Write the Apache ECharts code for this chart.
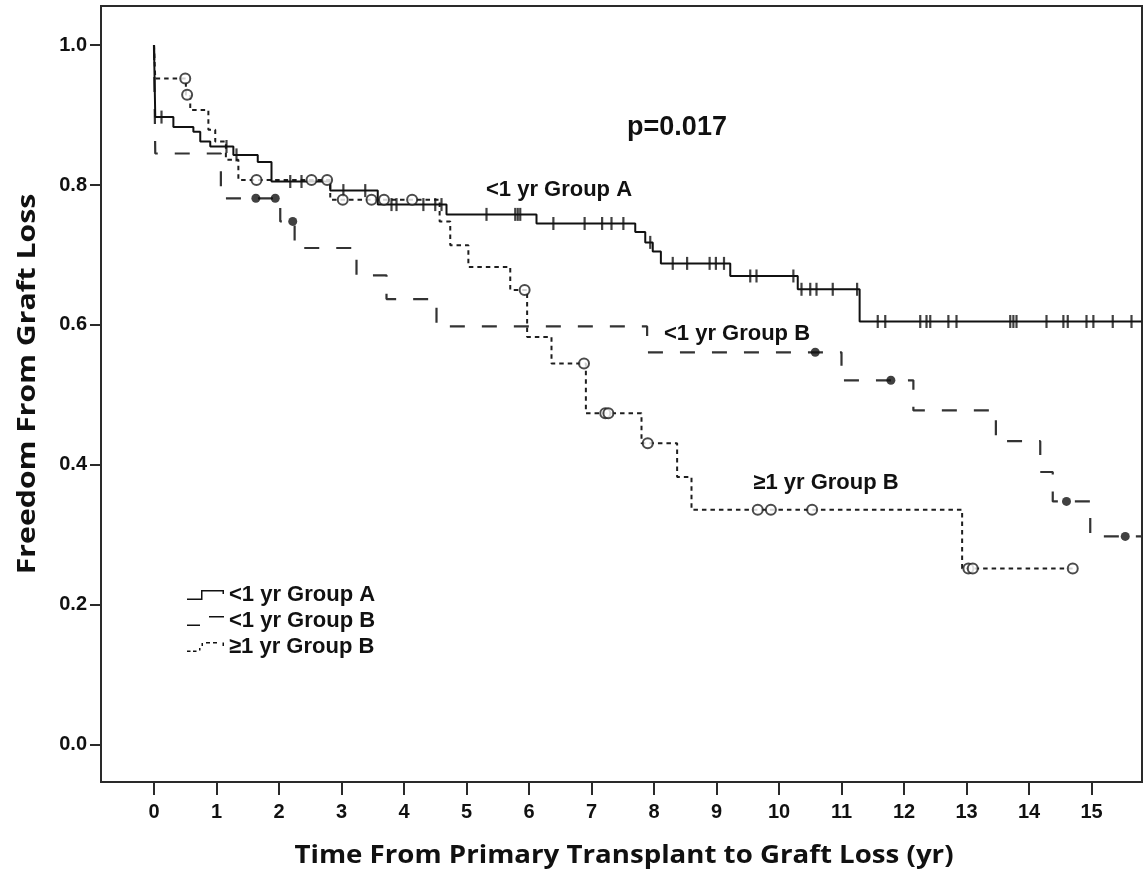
<!DOCTYPE html>
<html>
<head>
<meta charset="utf-8">
<script src="https://cdn.jsdelivr.net/npm/echarts@6/dist/echarts.min.js"></script>
<style>html,body{margin:0;padding:0;background:#fff}#c{width:1144px;height:877px}</style>
</head>
<body>
<div id="c"></div>
<script>
// ---------- data ----------
const xTicks = [0,1,2,3,4,5,6,7,8,9,10,11,12,13,14,15];
const yTicks = [0.0,0.2,0.4,0.6,0.8,1.0];
const seriesNames = ['<1 yr Group A', '<1 yr Group B', '\u22651 yr Group B'];

// Kaplan-Meier steps [time, survival after event]
const groupA = [[0,1.0],[0.02,0.897],[0.31,0.883],[0.63,0.876],[0.74,0.862],[0.90,0.855],[1.27,0.843],[1.66,0.833],[1.88,0.805],[2.82,0.792],[3.58,0.772],[4.68,0.758],[6.12,0.745],[7.70,0.733],[7.86,0.718],[7.98,0.705],[8.11,0.688],[9.22,0.670],[10.30,0.651],[11.29,0.605],[15.80,0.605]];
const groupACensored = [0.12,1.16,1.32,2.18,2.36,3.03,3.38,3.80,3.88,4.31,4.50,4.60,5.32,5.78,5.82,5.86,6.39,6.89,7.17,7.32,7.51,7.94,8.30,8.53,8.89,8.99,9.12,9.54,9.64,10.23,10.36,10.50,10.60,10.86,11.25,11.58,11.70,12.26,12.36,12.42,12.71,12.84,13.70,13.75,13.80,14.28,14.55,14.62,14.92,15.03,15.34,15.64];

const groupB = [[0,1.0],[0.02,0.845],[1.07,0.781],[2.02,0.748],[2.25,0.710],[3.24,0.671],[3.72,0.637],[4.52,0.598],[7.89,0.561],[11.00,0.521],[12.15,0.478],[13.47,0.434],[14.18,0.390],[14.38,0.348],[14.98,0.298],[15.80,0.298]];
const groupBCensored = [1.63,1.94,2.22,10.58,11.79,14.60,15.54];

const groupC = [[0,1.0],[0.02,0.952],[0.51,0.929],[0.58,0.907],[0.87,0.879],[0.98,0.862],[1.15,0.836],[1.35,0.807],[2.82,0.779],[4.57,0.748],[4.74,0.714],[5.03,0.683],[5.70,0.650],[5.97,0.583],[6.36,0.545],[6.91,0.474],[7.80,0.431],[8.37,0.383],[8.60,0.336],[12.93,0.252],[14.70,0.252]];
const groupCCensored = [0.50,0.53,1.64,2.52,2.77,3.02,3.48,3.68,4.13,5.93,6.88,7.22,7.27,7.90,9.66,9.87,10.53,13.03,13.10,14.70];

// ---------- helpers ----------
function levelAt(curve, x) {
  let y = curve[0][1];
  for (const p of curve) { if (p[0] <= x) y = p[1]; else break; }
  return y;
}
const censorPts = (curve, xs) => xs.map(x => [x, levelAt(curve, x)]);

const FONT = '"Liberation Sans", Arial, sans-serif';
const TFONT = '"Open Sans", "Liberation Sans", sans-serif';
const INK = '#111';

const chart = echarts.init(document.getElementById('c'), null, {renderer: 'canvas'});

const option = {
  animation: false,
  backgroundColor: '#fff',
  grid: {left: 101, top: 6, right: 2, bottom: 95, show: true, borderColor: '#2a2a2a', borderWidth: 2, backgroundColor: 'transparent'},
  xAxis: {
    type: 'value', min: -0.848, max: 15.808,
    axisLine: {show: false, onZero: false},
    splitLine: {show: false},
    axisTick: {show: true, length: 13, lineStyle: {color: '#2a2a2a', width: 2}, customValues: xTicks},
    axisLabel: {customValues: xTicks, margin: 20, color: INK, fontFamily: FONT, fontWeight: 'bold', fontSize: 20}
  },
  yAxis: {
    type: 'value', min: -0.0529, max: 1.0557,
    axisLine: {show: false, onZero: false},
    splitLine: {show: false},
    axisTick: {show: true, length: 11, lineStyle: {color: '#2a2a2a', width: 2}, customValues: yTicks},
    axisLabel: {customValues: yTicks, margin: 14, color: INK, fontFamily: FONT, fontWeight: 'bold', fontSize: 20,
      formatter: v => v.toFixed(1)}
  },
  legend: {
    orient: 'vertical', left: 187, top: 584, padding: 0,
    itemWidth: 37, itemHeight: 10, itemGap: 4, symbolKeepAspect: false,
    selectedMode: false,
    itemStyle: {color: '#111', borderWidth: 0},
    textStyle: {color: INK, fontFamily: FONT, fontWeight: 'bold', fontSize: 22, lineHeight: 22},
    data: [
      {name: seriesNames[0], icon: 'path://M0,8.5L14,8.5L14,0L37,0L37,4L35.5,4L35.5,1.5L15.5,1.5L15.5,10L0,10Z'},
      {name: seriesNames[1], icon: 'path://M0,8.5L13,8.5L13,10L0,10Z M22,0L37,0L37,1.5L22,1.5Z'},
      {name: seriesNames[2], icon: 'path://M0,8.5L3.5,8.5L3.5,10L0,10Z M6,8.5L9.5,8.5L9.5,10L6,10Z M12,6L13.5,6L13.5,8.5L12,8.5Z M14.5,1L16,1L16,4L14.5,4Z M19,0L23,0L23,1.5L19,1.5Z M26,0L30,0L30,1.5L26,1.5Z M35.5,0.5L37,0.5L37,4L35.5,4Z'}
    ]
  },
  series: [
    {name: seriesNames[0], type: 'line', step: 'end', data: groupA, symbol: 'none', showSymbol: false,
     lineStyle: {color: '#111', width: 2, type: 'solid'}, itemStyle: {color: '#111'}, z: 3},
    {name: seriesNames[1], type: 'line', step: 'end', data: groupB, symbol: 'none', showSymbol: false,
     lineStyle: {color: '#333', width: 2.2, type: [15, 17]}, itemStyle: {color: '#333'}, z: 2},
    {name: seriesNames[2], type: 'line', step: 'end', data: groupC, symbol: 'none', showSymbol: false,
     lineStyle: {color: '#1e1e1e', width: 2, type: [4.5, 4]}, itemStyle: {color: '#1e1e1e'}, z: 2},
    {name: 'A censored', type: 'scatter', data: censorPts(groupA, groupACensored), symbol: 'rect', symbolSize: [2.2, 13],
     itemStyle: {color: '#111'}, z: 4, silent: true},
    {name: 'B censored', type: 'scatter', data: censorPts(groupB, groupBCensored), symbol: 'circle', symbolSize: 9,
     itemStyle: {color: '#111'}, z: 4, silent: true},
    {name: 'C censored', type: 'scatter', data: censorPts(groupC, groupCCensored), symbol: 'emptyCircle', symbolSize: 10,
     itemStyle: {color: '#1e1e1e', borderWidth: 1.8}, z: 4, silent: true}
  ],
  graphic: [
    {type: 'text', x: 677, y: 128, style: {text: 'p=0.017', fill: INK, font: 'bold 27px ' + FONT, align: 'center', verticalAlign: 'middle'}},
    {type: 'text', x: 559, y: 190, style: {text: '<1 yr Group A', fill: INK, font: 'bold 22px ' + FONT, align: 'center', verticalAlign: 'middle'}},
    {type: 'text', x: 737, y: 334, style: {text: '<1 yr Group B', fill: INK, font: 'bold 22px ' + FONT, align: 'center', verticalAlign: 'middle'}},
    {type: 'text', x: 826, y: 483, style: {text: '\u22651 yr Group B', fill: INK, font: 'bold 22px ' + FONT, align: 'center', verticalAlign: 'middle'}},
    {type: 'text', x: 624, y: 856, scaleX: 1.106, style: {text: 'Time From Primary Transplant to Graft Loss (yr)', fill: INK, font: 'bold 25px ' + TFONT, align: 'center', verticalAlign: 'middle'}},
    {type: 'text', x: 28, y: 384, rotation: Math.PI / 2, scaleX: 1.21, style: {text: 'Freedom From Graft Loss', fill: INK, font: 'bold 25px ' + TFONT, align: 'center', verticalAlign: 'middle'}}
  ]
};
chart.setOption(option);
</script>
</body>
</html>
